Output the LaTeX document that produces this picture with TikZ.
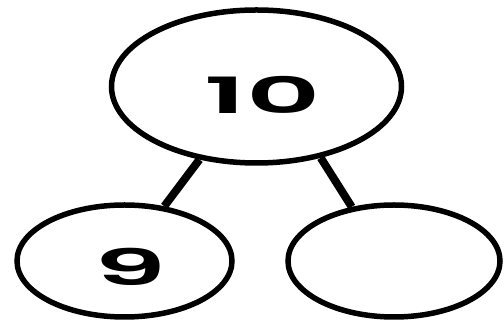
\documentclass[tikz,border=0pt]{standalone}
\usepackage{fontspec}
\newfontfamily\numfont{Poppins SemiBold}
\usetikzlibrary{shapes.geometric, positioning}

\begin{document}
\begin{tikzpicture}[
        x=1pt, y=1pt,
        font=\numfont\fontsize{50}{50}\selectfont,
        bond/.style={draw, ellipse, line width=5.5pt, inner sep=0pt, align=center},
        link/.style={line width=8pt}
    ]
        \useasboundingbox (0,0) rectangle (504,323);
        \node[bond, minimum width=290pt, minimum height=153pt] (whole) at (256.5,236.5) {\hspace*{12pt}\raisebox{-10pt}[35pt][0pt]{\scalebox{2.3}[1]{10}}};
        \node[bond, minimum width=215pt, minimum height=112pt] (partA) at (124.5,62) {\hspace*{12pt}\raisebox{-7pt}[35pt][0pt]{\scalebox{2.3}[1]{9}}};
        \node[bond, minimum width=212pt, minimum height=112pt] (partB) at (394,62) {};

        \draw[link] (whole.232) -- (partA.54);
        \draw[link] (whole.312) -- (partB.128);
    \end{tikzpicture}
\end{document}
